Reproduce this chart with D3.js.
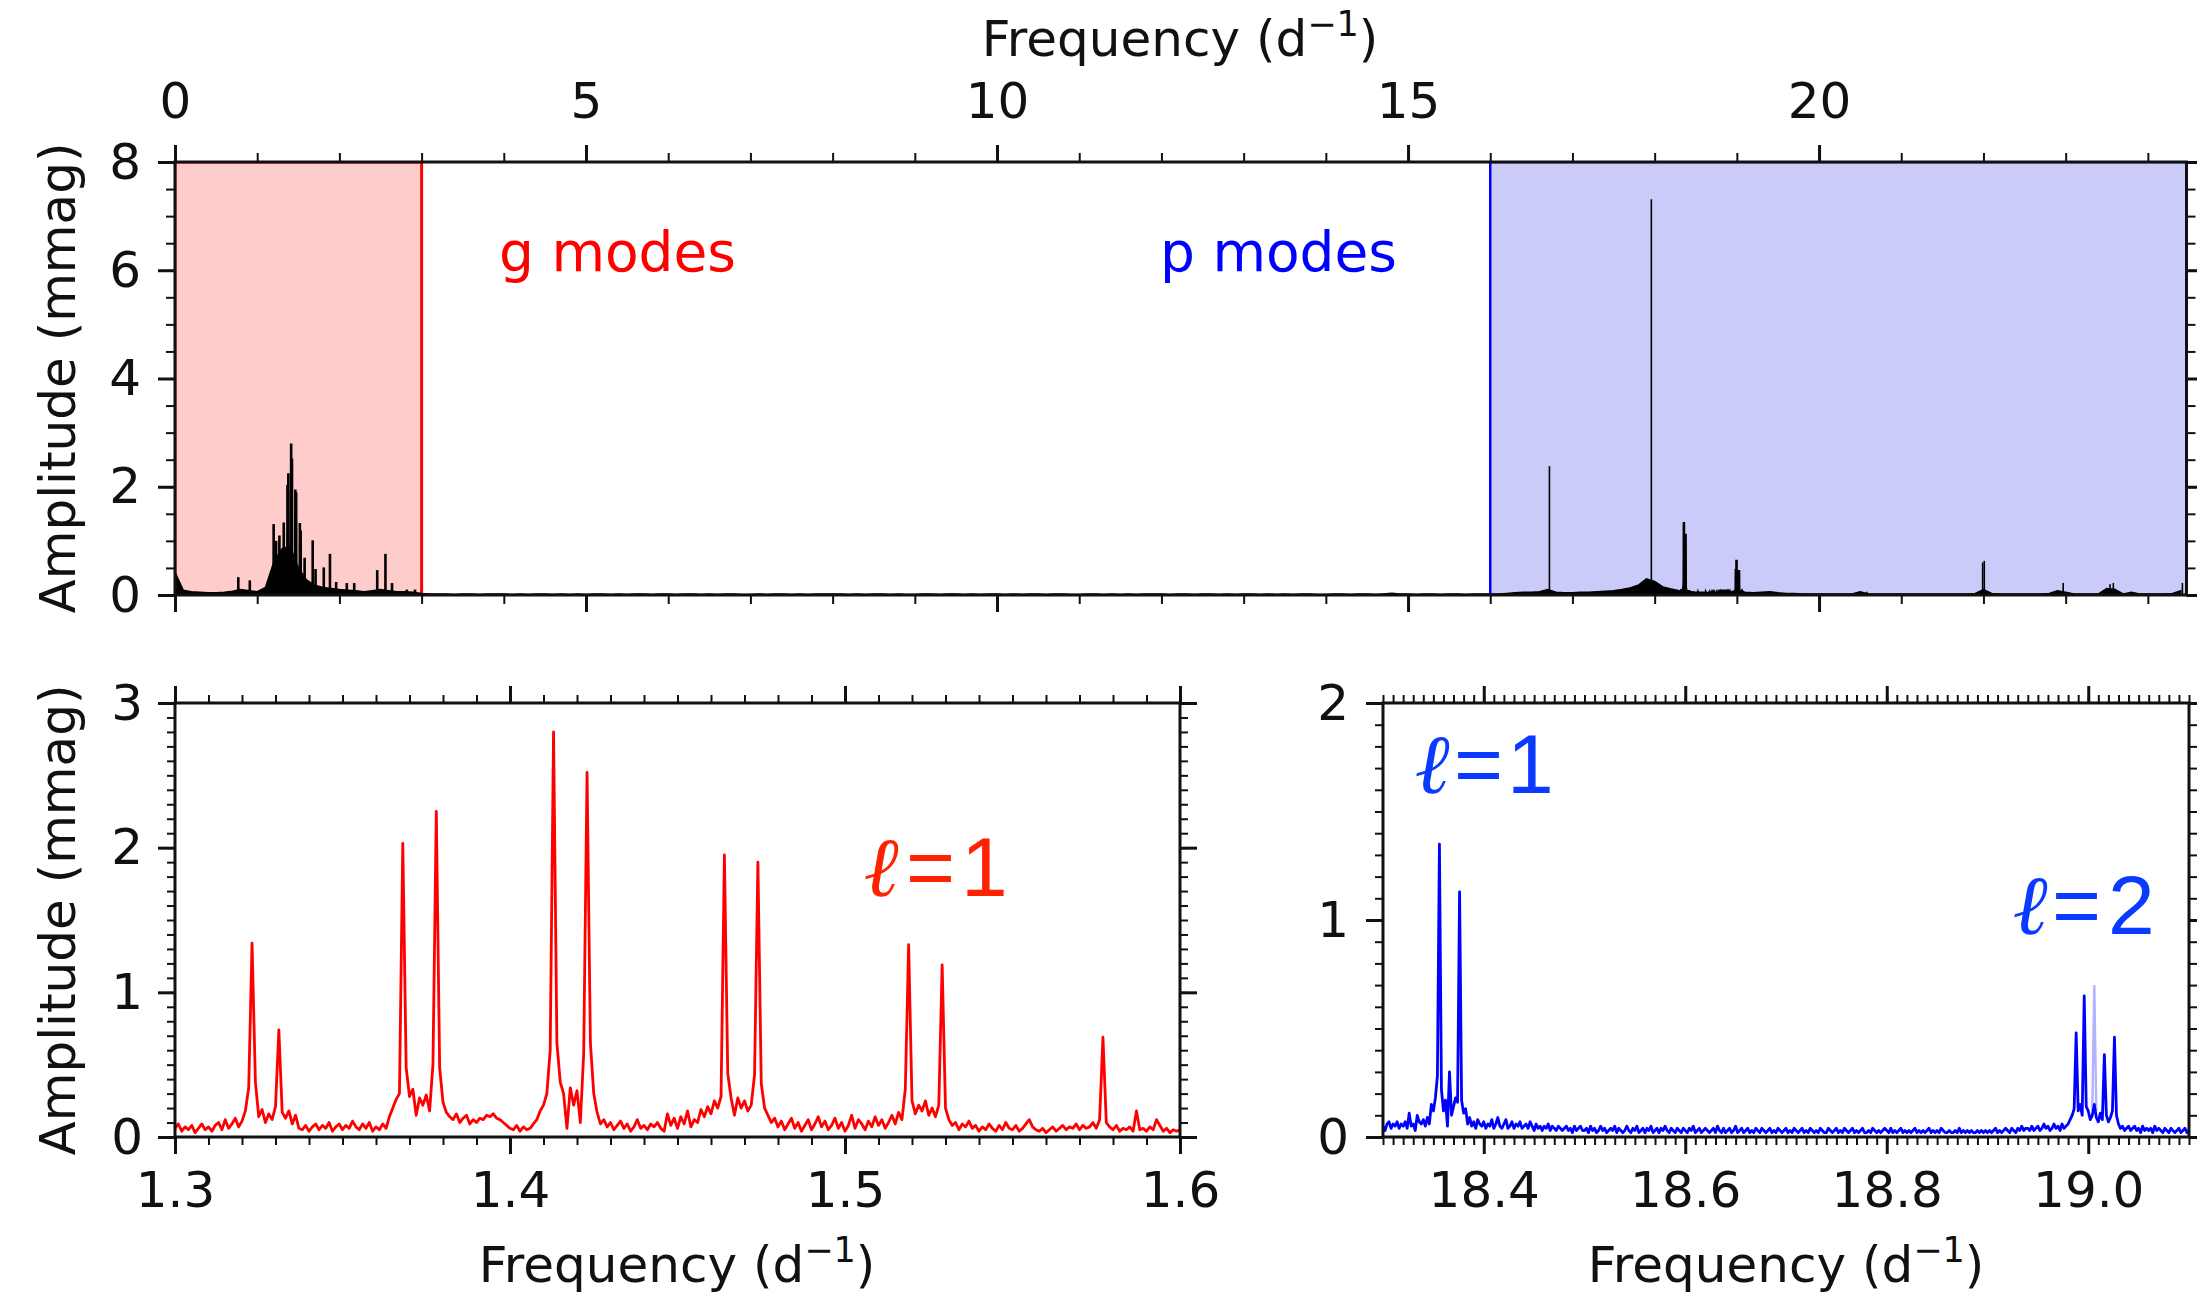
<!DOCTYPE html>
<html><head><meta charset="utf-8">
<script src="https://cdn.jsdelivr.net/npm/d3@7"></script>
<style>body{margin:0;background:#fff}</style>
</head><body>
<svg id="c" width="2197" height="1300" xmlns="http://www.w3.org/2000/svg"></svg>
<script>
// ---------------- DATA ----------------
// Top panel: full spectrum envelope, sampled from 0 d^-1 every 0.1 d^-1
const topBaseF0 = 0.0, topBaseDF = 0.1;
const topBaseAmp = [
0.42,0.09,0.06,0.05,0.04,0.04,0.05,0.07,0.10,0.08,
0.06,0.14,0.60,0.85,0.90,0.50,0.28,0.18,0.14,0.12,
0.10,0.09,0.08,0.06,0.08,0.10,0.08,0.06,0.06,0.05,
0.03,0.02,0.02,0.02,0.01,0.02,0.02,0.01,0.02,0.02,
0.02,0.01,0.02,0.01,0.02,0.02,0.01,0.02,0.01,0.02,
0.01,0.02,0.02,0.01,0.02,0.01,0.02,0.02,0.01,0.02,
0.02,0.01,0.02,0.02,0.01,0.02,0.01,0.02,0.02,0.01,
0.01,0.02,0.01,0.02,0.02,0.01,0.02,0.01,0.02,0.02,
0.02,0.02,0.01,0.02,0.01,0.02,0.02,0.01,0.02,0.01,
0.01,0.02,0.02,0.01,0.02,0.02,0.01,0.02,0.01,0.02,
0.02,0.01,0.02,0.01,0.02,0.02,0.01,0.02,0.02,0.01,
0.01,0.02,0.02,0.01,0.02,0.01,0.02,0.01,0.02,0.02,
0.02,0.01,0.02,0.02,0.01,0.02,0.02,0.01,0.02,0.01,
0.02,0.02,0.01,0.02,0.01,0.02,0.01,0.02,0.02,0.01,
0.01,0.02,0.02,0.01,0.02,0.02,0.01,0.02,0.03,0.02,
0.02,0.01,0.02,0.02,0.01,0.02,0.02,0.01,0.02,0.02,
0.02,0.02,0.03,0.04,0.05,0.05,0.06,0.10,0.05,0.04,
0.04,0.05,0.05,0.06,0.07,0.08,0.10,0.13,0.18,0.30,
0.25,0.15,0.11,0.08,0.07,0.05,0.05,0.04,0.04,0.04,
0.09,0.05,0.04,0.05,0.06,0.04,0.03,0.03,0.02,0.02,
0.02,0.02,0.02,0.02,0.02,0.06,0.02,0.02,0.02,0.02,
0.02,0.02,0.02,0.02,0.02,0.02,0.02,0.02,0.02,0.03,
0.10,0.03,0.02,0.02,0.02,0.02,0.02,0.02,0.03,0.08,
0.05,0.02,0.02,0.02,0.02,0.12,0.10,0.02,0.05,0.02,
0.02,0.02,0.02,0.03,0.08
];
// Top panel: individual peaks (frequency d^-1, amplitude mmag)
const topPeakFreq = [0.77,0.91,1.20,1.23,1.27,1.675,1.71,1.81,1.885,1.96,2.09,2.18,2.46,2.56,2.64,2.82,2.92,
                     16.72,17.96,20.58,21.99,22.01,22.97,23.54,23.58,24.42];
const topPeakAmp  = [0.33,0.27,1.31,1.00,1.10,1.01,0.48,0.51,0.76,0.24,0.22,0.22,0.46,0.76,0.22,0.10,0.10,
                     2.38,7.31,0.06,0.60,0.63,0.22,0.20,0.22,0.22];
const gModeRange = [0, 3];
const pModeRange = [16, 24.47];

// Bottom-left: g-mode zoom, sampled from 1.300 every 0.001 d^-1
const redF0 = 1.300, redDF = 0.001;
const redAmp = [
0.06,0.09,0.04,0.07,0.05,0.08,0.03,0.06,0.09,0.05,
0.07,0.04,0.08,0.10,0.05,0.12,0.06,0.09,0.13,0.07,
0.11,0.18,0.34,1.34,0.38,0.14,0.19,0.10,0.16,0.12,
0.21,0.74,0.17,0.13,0.18,0.09,0.15,0.06,0.05,0.08,
0.04,0.07,0.09,0.05,0.08,0.06,0.10,0.04,0.07,0.09,
0.05,0.08,0.06,0.11,0.07,0.05,0.09,0.06,0.10,0.04,
0.07,0.05,0.09,0.06,0.14,0.20,0.26,0.30,2.03,0.48,
0.28,0.33,0.15,0.27,0.22,0.29,0.18,0.50,2.25,0.48,
0.24,0.17,0.14,0.12,0.16,0.10,0.13,0.15,0.09,0.12,
0.10,0.13,0.12,0.15,0.14,0.16,0.13,0.12,0.10,0.08,
0.06,0.05,0.08,0.04,0.07,0.05,0.06,0.09,0.12,0.18,
0.22,0.30,0.60,2.80,0.65,0.38,0.30,0.06,0.34,0.22,
0.32,0.10,0.58,2.52,0.65,0.30,0.17,0.09,0.12,0.07,
0.10,0.05,0.08,0.11,0.06,0.09,0.04,0.07,0.12,0.06,
0.08,0.05,0.09,0.07,0.10,0.06,0.04,0.16,0.08,0.13,
0.06,0.14,0.09,0.18,0.07,0.12,0.10,0.19,0.14,0.21,
0.16,0.25,0.20,0.28,1.95,0.44,0.27,0.15,0.27,0.20,
0.25,0.18,0.22,0.43,1.90,0.37,0.20,0.15,0.10,0.13,
0.07,0.11,0.05,0.09,0.13,0.06,0.10,0.04,0.08,0.12,
0.05,0.09,0.14,0.07,0.11,0.05,0.08,0.13,0.06,0.10,
0.04,0.08,0.15,0.06,0.12,0.09,0.05,0.11,0.07,0.14,
0.08,0.12,0.06,0.10,0.15,0.09,0.17,0.12,0.33,1.33,
0.25,0.16,0.22,0.18,0.25,0.15,0.20,0.14,0.22,1.19,
0.20,0.12,0.08,0.10,0.05,0.09,0.07,0.11,0.06,0.08,
0.04,0.07,0.05,0.09,0.06,0.04,0.08,0.05,0.10,0.06,
0.05,0.08,0.04,0.06,0.09,0.12,0.07,0.05,0.04,0.06,
0.03,0.05,0.07,0.04,0.06,0.08,0.05,0.07,0.06,0.09,
0.05,0.08,0.06,0.07,0.10,0.06,0.12,0.69,0.10,0.07,
0.05,0.08,0.04,0.06,0.05,0.07,0.04,0.18,0.05,0.06,
0.04,0.07,0.05,0.12,0.08,0.04,0.06,0.03,0.05,0.04,
0.05
];

// Bottom-right: p-mode zoom, sampled from 18.300 every 0.002 d^-1
const blueF0 = 18.300, blueDF = 0.002;
const blueAmp = [
0.05,0.03,0.06,0.07,0.04,0.06,0.05,0.07,0.04,0.06,
0.05,0.07,0.04,0.11,0.05,0.06,0.03,0.10,0.07,0.06,
0.08,0.05,0.09,0.06,0.15,0.12,0.18,0.28,1.35,0.22,
0.12,0.17,0.05,0.30,0.10,0.14,0.18,0.16,1.13,0.17,
0.11,0.13,0.06,0.09,0.05,0.07,0.04,0.08,0.06,0.05,
0.07,0.04,0.06,0.05,0.08,0.04,0.06,0.09,0.05,0.04,
0.06,0.08,0.04,0.05,0.07,0.04,0.06,0.05,0.07,0.04,
0.05,0.06,0.04,0.07,0.05,0.03,0.06,0.04,0.05,0.03,
0.05,0.04,0.06,0.03,0.05,0.04,0.03,0.05,0.04,0.03,
0.04,0.05,0.03,0.04,0.02,0.05,0.03,0.04,0.05,0.03,
0.03,0.04,0.02,0.05,0.03,0.04,0.02,0.03,0.05,0.03,
0.04,0.02,0.03,0.04,0.03,0.05,0.02,0.04,0.03,0.02,
0.03,0.05,0.03,0.02,0.04,0.03,0.05,0.02,0.03,0.04,
0.02,0.04,0.03,0.05,0.02,0.03,0.04,0.02,0.04,0.03,
0.05,0.03,0.02,0.04,0.03,0.02,0.04,0.03,0.02,0.04,
0.03,0.02,0.04,0.03,0.05,0.02,0.03,0.04,0.02,0.03,
0.04,0.03,0.02,0.03,0.04,0.02,0.05,0.03,0.02,0.04,
0.02,0.03,0.04,0.02,0.03,0.05,0.02,0.03,0.04,0.02,
0.03,0.04,0.02,0.03,0.02,0.04,0.03,0.02,0.04,0.03,
0.02,0.03,0.04,0.02,0.03,0.02,0.04,0.03,0.02,0.03,
0.04,0.02,0.03,0.02,0.04,0.03,0.02,0.03,0.04,0.02,
0.03,0.02,0.04,0.03,0.02,0.03,0.02,0.04,0.03,0.02,
0.02,0.04,0.03,0.02,0.03,0.04,0.02,0.03,0.02,0.04,
0.03,0.02,0.03,0.04,0.02,0.03,0.02,0.03,0.04,0.02,
0.02,0.03,0.02,0.04,0.03,0.02,0.03,0.02,0.03,0.04,
0.03,0.02,0.04,0.02,0.03,0.02,0.03,0.04,0.02,0.03,
0.02,0.03,0.02,0.03,0.04,0.02,0.03,0.02,0.03,0.02,
0.03,0.04,0.02,0.03,0.02,0.03,0.02,0.04,0.03,0.02,
0.02,0.03,0.02,0.02,0.03,0.02,0.04,0.02,0.03,0.02,
0.03,0.02,0.03,0.02,0.02,0.03,0.02,0.03,0.02,0.03,
0.02,0.03,0.02,0.03,0.04,0.02,0.03,0.02,0.03,0.04,
0.03,0.02,0.04,0.03,0.02,0.04,0.03,0.05,0.03,0.04,
0.04,0.03,0.05,0.03,0.04,0.05,0.03,0.04,0.06,0.04,
0.05,0.03,0.04,0.06,0.04,0.05,0.03,0.06,0.04,0.05,
0.06,0.08,0.10,0.13,0.48,0.12,0.15,0.10,0.65,0.14,
0.12,0.08,0.10,0.15,0.09,0.07,0.11,0.08,0.38,0.10,
0.07,0.09,0.12,0.46,0.10,0.06,0.04,0.05,0.03,0.04,
0.05,0.03,0.04,0.05,0.03,0.04,0.02,0.05,0.03,0.04,
0.03,0.04,0.02,0.05,0.03,0.04,0.03,0.02,0.04,0.03,
0.02,0.04,0.03,0.02,0.03,0.04,0.02,0.03,0.04,0.02,
0.03
];
// faint (semi-transparent) l=2 component
const blueFaintFreq = [19.004, 19.006, 19.008];
const blueFaintAmp  = [0.12, 0.70, 0.12];

// Tick labels
const topXTicks = [0, 5, 10, 15, 20];
const topYTicks = [0, 2, 4, 6, 8];
const blXTicks = [1.3, 1.4, 1.5, 1.6];
const blYTicks = [0, 1, 2, 3];
const brXTicks = [18.4, 18.6, 18.8, 19.0];
const brYTicks = [0, 1, 2];

// ---------------- DRAW ----------------
const svg = d3.select('#c');
const FONT = 'DejaVu Sans';
const INK = '#111';

const toPts = (f0, df, arr) => arr.map((a, i) => [f0 + i * df, a]);
const topBase = toPts(topBaseF0, topBaseDF, topBaseAmp);
const redPts = toPts(redF0, redDF, redAmp);
const bluePts = toPts(blueF0, blueDF, blueAmp);
const bluePtsFaint = blueFaintFreq.map((f, i) => [f, blueFaintAmp[i]]);

function addAxis(orient, scale, values, size, pos, opts = {}) {
  const mk = {top: d3.axisTop, bottom: d3.axisBottom, left: d3.axisLeft, right: d3.axisRight}[orient];
  const gen = mk(scale).tickValues(values).tickSizeInner(size).tickSizeOuter(0)
    .tickPadding(opts.pad || 0).tickFormat(opts.fmt || (() => ''));
  const tr = (orient === 'top' || orient === 'bottom') ? `translate(0,${pos})` : `translate(${pos},0)`;
  const a = svg.append('g').attr('transform', tr).call(gen);
  a.select('.domain').remove();
  a.selectAll('line').attr('stroke', INK).attr('stroke-width', opts.sw || 2);
  a.selectAll('text').attr('font-family', FONT).attr('font-size', 50).attr('fill', INK);
  return a;
}

function freqLabel(cx, y) {
  const t = svg.append('text').attr('x', cx).attr('y', y).attr('text-anchor', 'middle')
    .attr('font-family', FONT).attr('font-size', 50).attr('fill', INK);
  t.append('tspan').text('Frequency (d');
  t.append('tspan').attr('font-size', 35).attr('dy', -20).text('\u22121');
  t.append('tspan').attr('dy', 20).text(')');
}
function ampLabel(x, cy) {
  svg.append('text').attr('transform', `translate(${x},${cy}) rotate(-90)`)
    .attr('text-anchor', 'middle').attr('font-family', FONT).attr('font-size', 50)
    .attr('fill', INK).text('Amplitude (mmag)');
}
function clip(id, x0, x1, y0, y1) {
  svg.append('clipPath').attr('id', id).append('rect')
    .attr('x', x0).attr('y', y0).attr('width', x1 - x0).attr('height', y1 - y0);
}
function frame(x, y) {
  svg.append('rect').attr('x', x.range()[0]).attr('y', y.range()[1])
    .attr('width', x.range()[1] - x.range()[0]).attr('height', y.range()[0] - y.range()[1])
    .attr('fill', 'none').attr('stroke', INK).attr('stroke-width', 3);
}
function ell(x0, xEq, xNum, base, num, color) {
  const t = svg.append('text').attr('y', base).attr('font-size', 84).attr('fill', color);
  t.append('tspan').attr('x', x0).attr('font-family', 'DejaVu Serif').attr('font-weight', 'bold')
    .attr('font-style', 'italic').text('\u2113');
  t.append('tspan').attr('x', xEq).attr('font-family', 'Liberation Sans').text('=');
  t.append('tspan').attr('x', xNum).attr('font-family', 'Liberation Sans').text(num);
}

// ===== Top panel =====
const xT = d3.scaleLinear().domain([0, 24.47]).range([175, 2186.5]);
const yT = d3.scaleLinear().domain([0, 8]).range([595, 162]);
clip('cT', 175, 2186.5, 162, 595);
const gT = svg.append('g').attr('clip-path', 'url(#cT)');
gT.append('rect').attr('x', xT(gModeRange[0])).attr('y', yT(8))
  .attr('width', xT(gModeRange[1]) - xT(gModeRange[0])).attr('height', yT(0) - yT(8))
  .attr('fill', '#ffcccc').attr('stroke', '#ff0000').attr('stroke-width', 3);
gT.append('rect').attr('x', xT(pModeRange[0])).attr('y', yT(8))
  .attr('width', xT(pModeRange[1]) - xT(pModeRange[0])).attr('height', yT(0) - yT(8))
  .attr('fill', '#cbcbf9').attr('stroke', '#0000ff').attr('stroke-width', 2.5);
const areaT = d3.area().x(d => xT(d[0])).y0(yT(0)).y1(d => yT(d[1]));
gT.append('path').attr('d', areaT(topBase)).attr('fill', '#000').attr('stroke', '#000').attr('stroke-width', 1.5);
[redPts, bluePts].forEach(pts => {
  gT.append('path').attr('d', areaT(pts)).attr('fill', '#000').attr('stroke', '#000')
    .attr('stroke-width', 2.6).attr('stroke-linejoin', 'miter');
});
gT.selectAll('line.pk').data(topPeakFreq.map((f, i) => [f, topPeakAmp[i]])).join('line')
  .attr('class', 'pk').attr('x1', d => xT(d[0])).attr('x2', d => xT(d[0]))
  .attr('y1', yT(0)).attr('y2', d => yT(d[1])).attr('stroke', '#000')
  .attr('stroke-width', d => d[0] < 5 ? 2.6 : 1.6);

svg.append('text').attr('x', 499).attr('y', 271).attr('font-family', FONT).attr('font-size', 55)
  .attr('fill', '#ff0000').text('g modes');
svg.append('text').attr('x', 1160).attr('y', 271).attr('font-family', FONT).attr('font-size', 55)
  .attr('fill', '#0000ff').text('p modes');

frame(xT, yT);
addAxis('top', xT, topXTicks, 17, 162, {pad: 27, fmt: d3.format('d'), sw: 3});
addAxis('top', xT, d3.range(0, 25), 9, 162);
addAxis('bottom', xT, topXTicks, 17, 595, {sw: 3});
addAxis('bottom', xT, d3.range(0, 25), 9, 595);
addAxis('left', yT, topYTicks, 17, 175, {pad: 17, fmt: d3.format('d'), sw: 3});
addAxis('left', yT, d3.range(0, 17).map(i => i * 0.5), 9, 175);
addAxis('right', yT, topYTicks, 17, 2186.5, {sw: 3});
addAxis('right', yT, d3.range(0, 17).map(i => i * 0.5), 9, 2186.5);
freqLabel(1180, 56);
ampLabel(75, 378);

// ===== Bottom-left panel =====
const xL = d3.scaleLinear().domain([1.3, 1.6]).range([175, 1180]);
const yL = d3.scaleLinear().domain([0, 3]).range([1137, 703]);
clip('cL', 175, 1180, 703, 1137);
svg.append('g').attr('clip-path', 'url(#cL)').append('path')
  .attr('d', d3.line().x(d => xL(d[0])).y(d => yL(d[1]))(redPts))
  .attr('fill', 'none').attr('stroke', '#ff0000').attr('stroke-width', 2.8).attr('stroke-linejoin', 'round');
frame(xL, yL);
const blMinorX = d3.range(0, 31).map(i => 1.3 + i * 0.01);
const blMinorY = d3.range(0, 31).map(i => i * 0.1);
addAxis('bottom', xL, blXTicks, 17, 1137, {pad: 17, fmt: d3.format('.1f'), sw: 3});
addAxis('bottom', xL, blMinorX, 8, 1137);
addAxis('top', xL, blXTicks, 17, 703, {sw: 3});
addAxis('top', xL, blMinorX, 8, 703);
addAxis('left', yL, blYTicks, 17, 175, {pad: 15, fmt: d3.format('d'), sw: 3});
addAxis('left', yL, blMinorY, 8, 175);
addAxis('right', yL, blYTicks, 17, 1180, {sw: 3});
addAxis('right', yL, blMinorY, 8, 1180);
freqLabel(677, 1282);
ampLabel(75, 920);
ell(865, 906, 961, 896, '1', '#ff2200');

// ===== Bottom-right panel =====
const xR = d3.scaleLinear().domain([18.3, 19.1]).range([1383, 2189]);
const yR = d3.scaleLinear().domain([0, 2]).range([1137, 703]);
clip('cR', 1383, 2189, 703, 1137);
const gR = svg.append('g').attr('clip-path', 'url(#cR)');
const lineR = d3.line().x(d => xR(d[0])).y(d => yR(d[1]));
gR.append('path').attr('d', lineR(bluePtsFaint)).attr('fill', 'none')
  .attr('stroke', '#0000ff').attr('stroke-opacity', 0.3).attr('stroke-width', 2.4);
gR.append('path').attr('d', lineR(bluePts)).attr('fill', 'none')
  .attr('stroke', '#0000ff').attr('stroke-width', 2.8).attr('stroke-linejoin', 'round');
frame(xR, yR);
const brMinorX = d3.range(0, 81).map(i => 18.3 + i * 0.01);
const brMinorY = d3.range(0, 21).map(i => i * 0.1);
addAxis('bottom', xR, brXTicks, 17, 1137, {pad: 17, fmt: d3.format('.1f'), sw: 3});
addAxis('bottom', xR, brMinorX, 8, 1137);
addAxis('top', xR, brXTicks, 17, 703, {sw: 3});
addAxis('top', xR, brMinorX, 8, 703);
addAxis('left', yR, brYTicks, 17, 1383, {pad: 17, fmt: d3.format('d'), sw: 3});
addAxis('left', yR, brMinorY, 8, 1383);
addAxis('right', yR, brYTicks, 17, 2189, {sw: 3});
addAxis('right', yR, brMinorY, 8, 2189);
freqLabel(1786, 1282);
ell(1416, 1454, 1507, 793, '1', '#0a3aff');
ell(2014, 2052, 2108, 934, '2', '#0a3aff');
</script>
</body></html>
